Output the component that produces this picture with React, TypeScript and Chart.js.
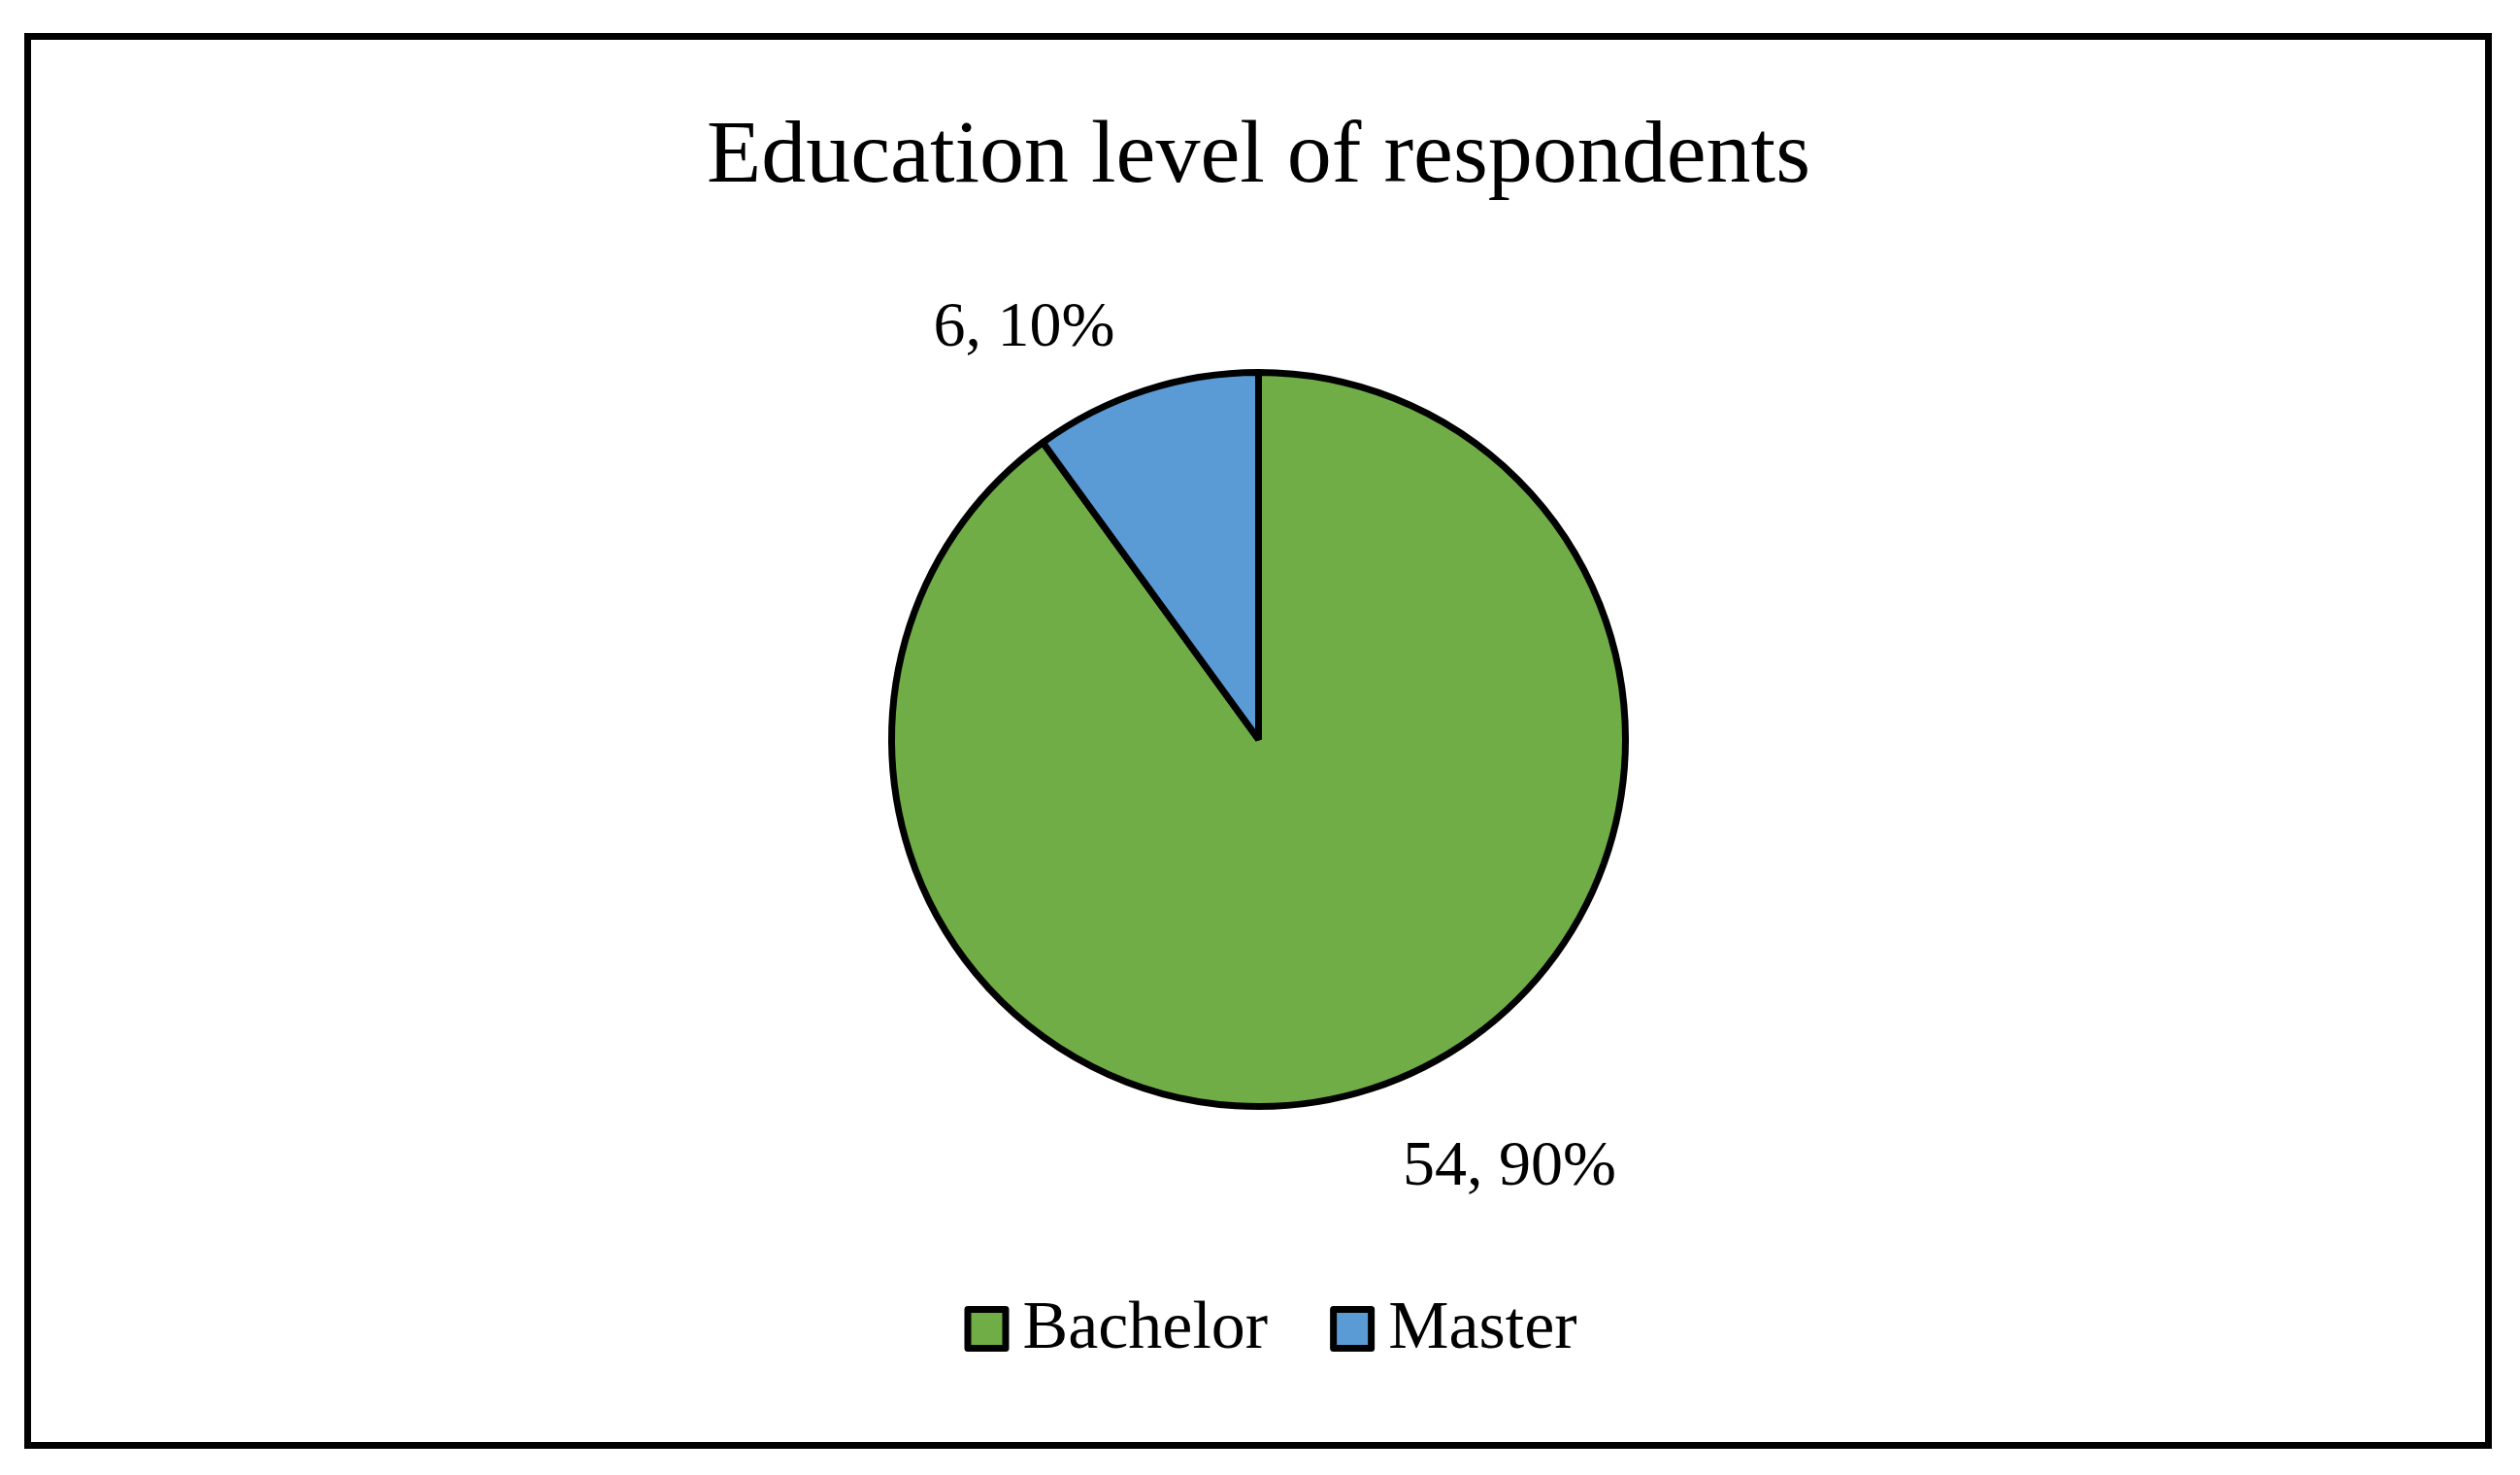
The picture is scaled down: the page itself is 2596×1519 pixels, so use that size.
import React, { useEffect, useRef } from "react";
import { Chart, registerables } from "chart.js";

Chart.register(...registerables);

const categories = ["Bachelor", "Master"];
const counts = [54, 6];
const sliceColors = ["#70AD47", "#5B9BD5"];
const chartTitle = "Education level of respondents";

const W = 2596;
const H = 1519;
const FONT = "'Liberation Serif', 'Times New Roman', serif";

const framePlugin = {
  id: "frame",
  beforeDraw(chart: any) {
    const ctx = chart.ctx;
    ctx.save();
    ctx.fillStyle = "#ffffff";
    ctx.fillRect(0, 0, chart.width, chart.height);
    ctx.strokeStyle = "#000000";
    ctx.lineWidth = 7;
    ctx.strokeRect(28.5, 37.5, 2535, 1451);
    ctx.restore();
  },
};

// label offsets relative to slice centre, in units of outer radius (dx, baseline dy)
const labelOffsets = [
  [0.684, 1.213],
  [-0.639, -1.073],
];

const labelsPlugin = {
  id: "sliceLabels",
  afterDatasetsDraw(chart: any) {
    const ctx = chart.ctx;
    const meta = chart.getDatasetMeta(0);
    const data = chart.data.datasets[0].data as number[];
    const total = data.reduce((a, b) => a + b, 0);
    ctx.save();
    ctx.fillStyle = "#000000";
    ctx.font = `66px ${FONT}`;
    ctx.textAlign = "center";
    ctx.textBaseline = "alphabetic";
    meta.data.forEach((arc: any, i: number) => {
      const { x, y, outerRadius } = arc.getProps(["x", "y", "outerRadius"], true);
      const pct = Math.round((data[i] / total) * 100);
      const text = `${data[i]}, ${pct}%`;
      const [dx, dy] = labelOffsets[i];
      ctx.fillText(text, x + dx * outerRadius, y + dy * outerRadius);
    });
    ctx.restore();
  },
};

const legendPlugin = {
  id: "customLegend",
  afterDraw(chart: any) {
    const ctx = chart.ctx;
    const labels = chart.data.labels as string[];
    const colors = chart.data.datasets[0].backgroundColor as string[];
    ctx.save();
    ctx.font = `70px ${FONT}`;
    const box = 46;
    const gapText = 14;
    const gapItem = 64;
    const widths = labels.map((l) => ctx.measureText(l).width);
    const total =
      widths.reduce((a, b) => a + b, 0) + labels.length * (box + gapText) + (labels.length - 1) * gapItem;
    let x = 1309 - total / 2;
    const baseline = 1388;
    const boxTop = 1345;
    labels.forEach((l, i) => {
      ctx.fillStyle = colors[i];
      ctx.strokeStyle = "#000000";
      ctx.lineWidth = 7;
      ctx.lineJoin = "round";
      ctx.beginPath();
      ctx.rect(x + 3.5, boxTop + 3.5, box - 7, box - 6);
      ctx.fill();
      ctx.stroke();
      ctx.fillStyle = "#000000";
      ctx.textAlign = "left";
      ctx.textBaseline = "alphabetic";
      ctx.fillText(l, x + box + gapText, baseline);
      x += box + gapText + widths[i] + gapItem;
    });
    ctx.restore();
  },
};

export default function App() {
  const ref = useRef<HTMLCanvasElement>(null);
  useEffect(() => {
    if (!ref.current) return;
    const chart = new Chart(ref.current, {
      type: "pie",
      data: {
        labels: categories,
        datasets: [
          {
            data: counts,
            backgroundColor: sliceColors,
            borderColor: "#000000",
            borderWidth: 7,
          },
        ],
      },
      options: {
        responsive: false,
        animation: false,
        devicePixelRatio: 1,
        layout: { padding: { top: 50, bottom: 376, left: 0, right: 3 } },
        plugins: {
          legend: { display: false },
          tooltip: { enabled: false },
          title: {
            display: true,
            text: chartTitle,
            color: "#000000",
            font: { family: FONT, size: 92, weight: "normal", lineHeight: 1.2 },
            padding: { top: 58, bottom: 161.6 },
          },
        },
      },
      plugins: [framePlugin, labelsPlugin, legendPlugin],
    });
    return () => chart.destroy();
  }, []);
  return (
    <div style={{ position: "absolute", left: 0, top: 0, width: W, height: H }}>
      <canvas ref={ref} width={W} height={H} style={{ display: "block", width: W, height: H }} />
    </div>
  );
}
